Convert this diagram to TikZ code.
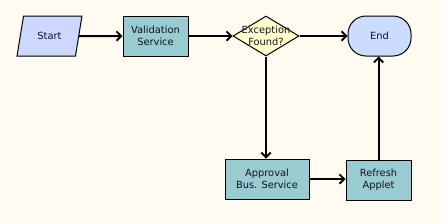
\documentclass[tikz,border=0pt]{standalone}
\usepackage{fontspec}
\setmainfont{DejaVu Sans}
\usetikzlibrary{shapes.geometric,arrows.meta}
\definecolor{bg}{HTML}{FFFBF0}
\definecolor{startfill}{HTML}{CCD8FF}
\definecolor{svcfill}{HTML}{99CCD0}
\definecolor{decfill}{HTML}{FFFFCC}
\definecolor{endfill}{HTML}{CCDCFF}
\definecolor{txt}{HTML}{101030}
\tikzset{
  base/.style={draw=black, line width=0.75pt, text=txt, font=\fontsize{7.4}{8.8}\selectfont, align=center, inner sep=0pt},
  svc/.style={base, fill=svcfill, minimum width=65*0.75pt, minimum height=40*0.75pt},
  startbox/.style={base, fill=startfill, trapezium, trapezium left angle=68, trapezium right angle=112, trapezium stretches=true, minimum width=65*0.75pt, minimum height=40*0.75pt},
  decbox/.style={base, fill=decfill, diamond, minimum width=66*0.75pt, minimum height=40*0.75pt},
  endbox/.style={base, fill=endfill, rounded corners=18*0.75pt, minimum width=63*0.75pt, minimum height=40*0.75pt},
  conn/.style={line width=1.5pt, -{Straight Barb[length=3.5pt,width=7pt,line width=1.4pt]}}
}
\begin{document}
\begin{tikzpicture}[x=0.75pt,y=-0.75pt]
\fill[bg] (0,0) rectangle (441,223);
\useasboundingbox (0,0) rectangle (441,223);
\node[startbox] (start) at (49.5,36) {Start};
\node[svc] (val) at (155.5,36) {Validation\\Service};
\node[decbox] (dec) at (266,36) {};
\node[base, draw=none, fill=none] (dectext) at (266,36) {Exception\\Found?};
\node[endbox] (end) at (379.5,36) {End};
\node[svc, minimum width=84*0.75pt] (appr) at (267,179) {Approval\\Bus. Service};
\node[svc] (ref) at (378.5,180) {Refresh\\Applet};
\draw[conn] (start.east) -- (val.west);
\draw[conn] (val.east) -- (dec.west);
\draw[conn] (dec.east) -- (end.west);
\draw[conn] (dec.south) -- (dec.south |- appr.north);
\draw[conn] (appr.east) -- (appr.east -| ref.west);
\draw[conn] (ref.north) -- (ref.north |- end.south);
\end{tikzpicture}
\end{document}
